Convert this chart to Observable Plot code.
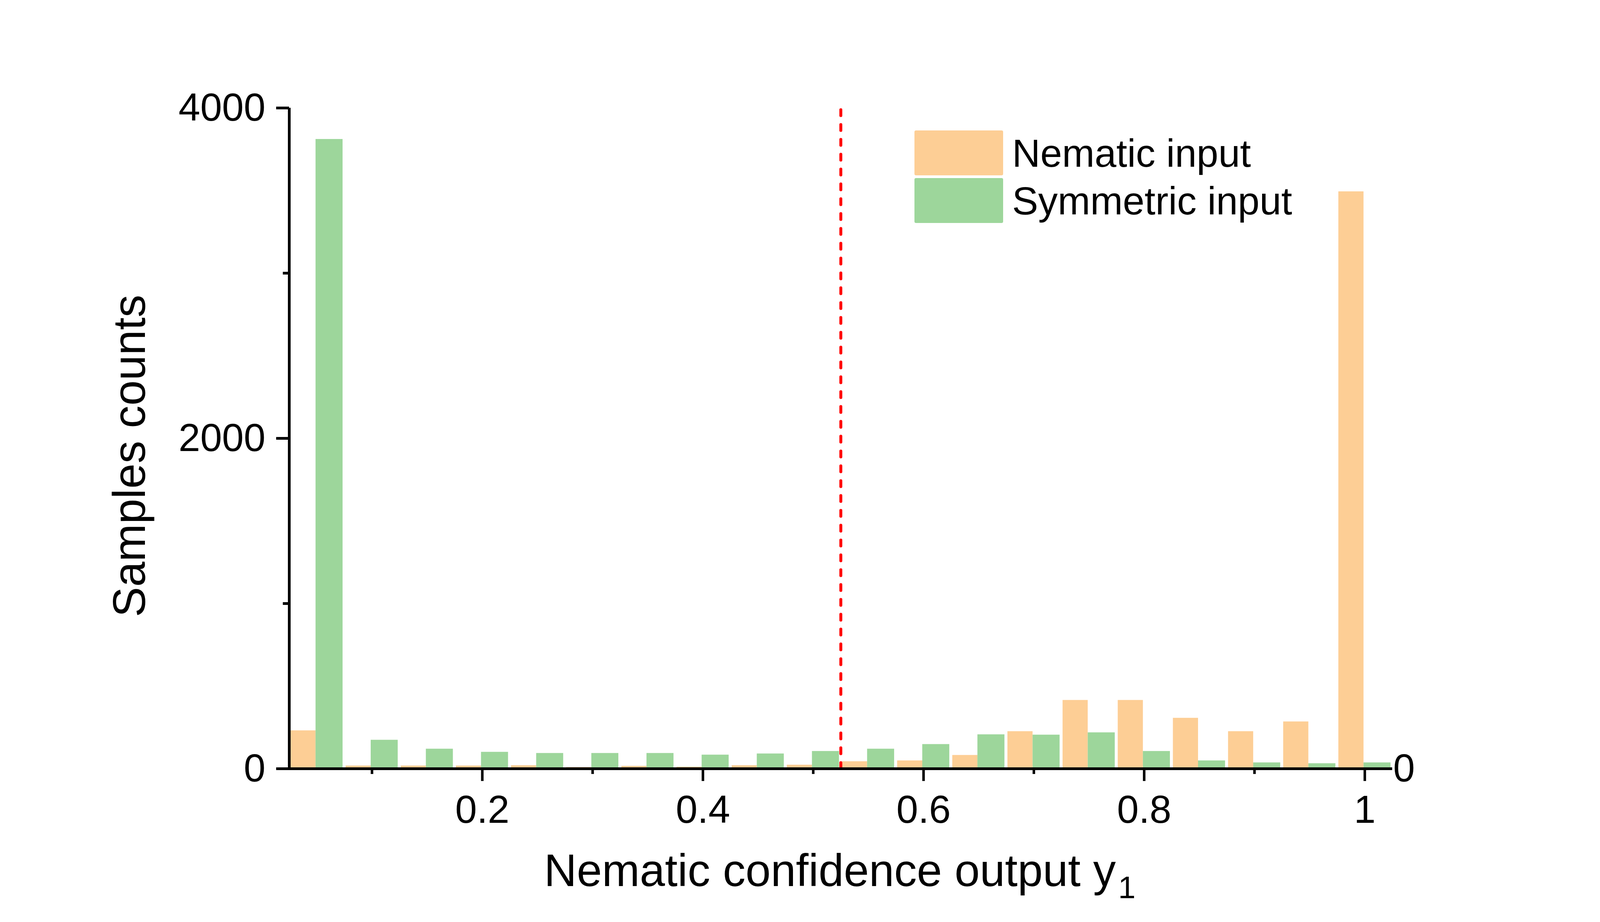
<!DOCTYPE html>
<html>
<head>
<meta charset="utf-8">
<script src="https://cdn.jsdelivr.net/npm/d3@7"></script>
<script src="https://cdn.jsdelivr.net/npm/@observablehq/plot@0.6"></script>
<style>
  html, body { margin: 0; padding: 0; background: #fff; }
  #wrap { position: relative; width: 4134px; height: 2361px; font-family: "Liberation Sans", Arial, sans-serif; }
  #legend { position: absolute; left: 2341px; top: 334px; }
  .row { display: flex; align-items: center; height: 115px; margin-bottom: 7px; }
  .sw { width: 227px; height: 115px; border-radius: 4px; }
  .lab { margin-left: 23px; font-size: 100px; color: #000; line-height: 1; }
</style>
</head>
<body>
<div id="wrap"><div id="legend"></div></div>
<script>
// ---- data ----
const binCenters = [0.05, 0.10, 0.15, 0.20, 0.25, 0.30, 0.35, 0.40, 0.45, 0.50,
                    0.55, 0.60, 0.65, 0.70, 0.75, 0.80, 0.85, 0.90, 0.95, 1.00];
const nematicCounts   = [231, 18, 18, 18, 20, 9, 16, 11, 20, 23,
                         44, 49, 82, 226, 415, 415, 307, 226, 285, 3494];
const symmetricCounts = [3811, 174, 120, 101, 94, 94, 94, 84, 91, 106,
                         120, 148, 207, 205, 219, 106, 49, 37, 32, 37];
const seriesNames = ["Nematic input", "Symmetric input"];
const seriesColors = ["#FDCE95", "#9DD69B"];
const xMajorTicks = [0.2, 0.4, 0.6, 0.8, 1.0];
const xTickLabels = ["0.2", "0.4", "0.6", "0.8", "1"];
const xMinorTicks = [0.1, 0.3, 0.5, 0.7, 0.9];
const yMajorTicks = [0, 2000, 4000];
const yMinorTicks = [1000, 3000];
const thresholdX = [0.525];
const xTitle = ["Nematic confidence output y"];
const xTitleSub = ["1"];
const yTitle = ["Samples counts"];

const nematic = binCenters.map((c, i) => ({c, v: nematicCounts[i]}));
const symmetric = binCenters.map((c, i) => ({c, v: symmetricCounts[i]}));

const chart = Plot.plot({
  width: 4134,
  height: 2361,
  marginLeft: 740,
  marginRight: 570,
  marginTop: 276,
  marginBottom: 393,
  x: {domain: [0.025, 1.025]},
  y: {domain: [0, 4000]},
  style: {fontFamily: "Liberation Sans, Arial, sans-serif", background: "white", color: "black", overflow: "visible"},
  marks: [
    Plot.rect(nematic, {x1: d => d.c - 0.0238, x2: d => d.c - 0.001, y1: 0, y2: "v", fill: seriesColors[0]}),
    Plot.rect(symmetric, {x1: d => d.c - 0.001, x2: d => d.c + 0.0235, y1: 0, y2: "v", fill: seriesColors[1]}),
    Plot.ruleX(thresholdX, {y1: 0, y2: 4000, stroke: "#FF0000", strokeWidth: 7.5, strokeDasharray: "15,23", strokeLinecap: "round"}),
    Plot.ruleY([0], {stroke: "black", strokeWidth: 7}),
    Plot.ruleX([0.025], {stroke: "black", strokeWidth: 7}),
    Plot.axisX({ticks: xMajorTicks, tickSize: 32, tickPadding: 35, fontSize: 100, strokeWidth: 6.5, label: null,
                tickFormat: d => xTickLabels[xMajorTicks.indexOf(d)]}),
    Plot.axisX({ticks: xMinorTicks, tickSize: 14, strokeWidth: 6.5, label: null, tickFormat: () => ""}),
    Plot.axisY({ticks: yMajorTicks, tickSize: 33, tickPadding: 28, fontSize: 100, strokeWidth: 7, label: null,
                tickFormat: d => String(d)}),
    Plot.axisY({ticks: yMinorTicks, tickSize: 16, strokeWidth: 7, label: null, tickFormat: () => ""}),
    Plot.axisY({anchor: "right", ticks: [0], tickSize: 0, tickPadding: 2, fontSize: 100, label: null, tickFormat: d => String(d)}),
    Plot.text(yTitle, {text: d => d, frameAnchor: "left", textAnchor: "middle", rotate: -90, dx: -407, dy: 45, fontSize: 116, lineAnchor: "middle", fill: "black"}),
    Plot.text(xTitle, {text: d => d, frameAnchor: "bottom", textAnchor: "end", dx: 704, dy: 263, fontSize: 116, lineAnchor: "middle", fill: "black"}),
    Plot.text(xTitleSub, {text: d => d, frameAnchor: "bottom", textAnchor: "start", dx: 710, dy: 306, fontSize: 80, lineAnchor: "middle", fill: "black"})
  ]
});
document.getElementById("wrap").prepend(chart);

const legend = document.getElementById("legend");
seriesNames.forEach((name, i) => {
  const row = document.createElement("div");
  row.className = "row";
  const sw = document.createElement("div");
  sw.className = "sw";
  sw.style.background = seriesColors[i];
  const lab = document.createElement("div");
  lab.className = "lab";
  lab.textContent = name;
  row.appendChild(sw);
  row.appendChild(lab);
  legend.appendChild(row);
});
</script>
</body>
</html>
